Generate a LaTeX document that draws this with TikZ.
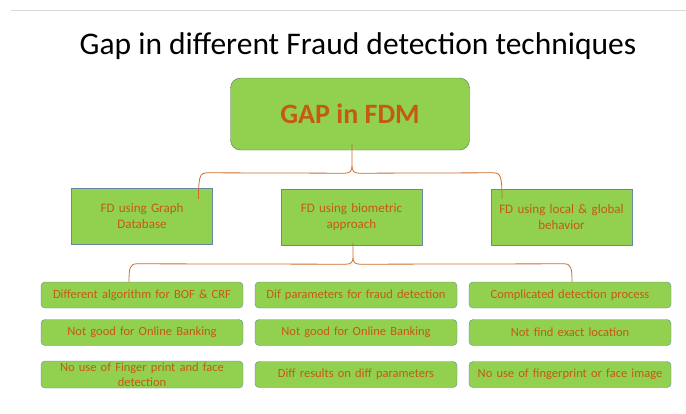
\documentclass[tikz,border=0pt]{standalone}
\usepackage{fontspec}
\setmainfont{Carlito}
\usepackage{xcolor}
\usepackage{tikz}
\usetikzlibrary{positioning,calc}

\definecolor{leafgreen}{HTML}{92D050}
\definecolor{gaporange}{HTML}{C55A11}
\definecolor{braceorange}{HTML}{CD6B2E}
\definecolor{edgeblue}{HTML}{6688A4}
\definecolor{rulegray}{HTML}{D9D9D9}

\begin{document}
\begin{tikzpicture}[x=1pt, y=-1pt,
        head/.style={rectangle, rounded corners=10pt, draw=edgeblue!60!leafgreen!70!black, fill=leafgreen, minimum width=239pt, minimum height=72pt, text=gaporange, font=\fontsize{28}{32}\selectfont\bfseries},
        branch/.style={rectangle, draw=edgeblue, fill=leafgreen, minimum width=140pt, minimum height=56pt, text width=134pt, align=center, text=gaporange, font=\fontsize{13}{16}\selectfont},
        leaf/.style={rectangle, rounded corners=4pt, draw=edgeblue, fill=leafgreen, minimum width=202pt, minimum height=26pt, text width=198pt, inner xsep=2pt, align=center, text=gaporange, font=\fontsize{12.5}{15}\selectfont},
        brace/.style={draw=braceorange, line width=0.8pt}]

        \useasboundingbox (0,0) rectangle (686,413);
        \draw [rulegray, line width=0.8pt] (11,10.5) -- (686,10.5);

        \node (title) at (358,46) {\fontsize{31.5}{36}\selectfont Gap in different Fraud detection techniques};

        \node [head] (gap) at (350,114) {GAP in FDM};

        \node [branch] (graph) at (142,216) {FD using Graph\\Database};
        \node [branch] (bio) at (351.5,217) {FD using biometric\\approach};
        \node [branch] (local) at (561.5,217) {FD using local \& global\\behavior};

        % gaps under each technique
        \node [leaf] (a1) at (142,295) {Different algorithm for BOF \& CRF};
        \node [leaf] (a2) at (142,332.5) {Not good for Online Banking};
        \node [leaf, inner ysep=0pt, minimum height=27pt] (a3) at (142,374.5) {No use of Finger print and face\\detection};
        \node [leaf] (b1) at (356,295) {Dif parameters for fraud detection};
        \node [leaf] (b2) at (356,332.5) {Not good for Online Banking};
        \node [leaf] (b3) at (356,374.5) {Diff results on diff parameters};
        \node [leaf] (c1) at (570,295) {Complicated detection process};
        \node [leaf] (c2) at (570,332.5) {Not find exact location};
        \node [leaf] (c3) at (570,374.5) {No use of fingerprint or face image};

        % braces
        \coordinate (g1) at ($(graph.north east)+(-14,11)$);
        \coordinate (g2) at ($(local.north west)+(11,10)$);
        \coordinate (g0) at ($(gap.south)+(2,-6)$);
        \draw [brace] (g1) .. controls ($(g1)+(0,-22)$) and ($(g1)+(1,-26)$) .. ($(g1)+(9,-26)$)
            -- ($(g0)+(-7,29)$) .. controls ($(g0)+(-2,29)$) and ($(g0)+(0,27)$) .. ($(g0)+(0,21)$) -- (g0)
            -- ($(g0)+(0,21)$) .. controls ($(g0)+(0,27)$) and ($(g0)+(2,29)$) .. ($(g0)+(7,29)$)
            -- ($(g2)+(-9,-26)$) .. controls ($(g2)+(-1,-26)$) and ($(g2)+(0,-22)$) .. (g2);

        \coordinate (h1) at ($(a1.north)+(-13,0)$);
        \coordinate (h2) at ($(c1.north)+(2,0)$);
        \coordinate (h0) at ($(bio.south)+(1.5,-2)$);
        \draw [brace] (h1) .. controls ($(h1)+(0,-14)$) and ($(h1)+(1,-18)$) .. ($(h1)+(8,-18)$)
            -- ($(h0)+(-7,21)$) .. controls ($(h0)+(-2,21)$) and ($(h0)+(0,19)$) .. ($(h0)+(0,14)$) -- (h0)
            -- ($(h0)+(0,14)$) .. controls ($(h0)+(0,19)$) and ($(h0)+(2,21)$) .. ($(h0)+(7,21)$)
            -- ($(h2)+(-8,-18)$) .. controls ($(h2)+(-1,-18)$) and ($(h2)+(0,-14)$) .. (h2);

    \end{tikzpicture}
\end{document}
